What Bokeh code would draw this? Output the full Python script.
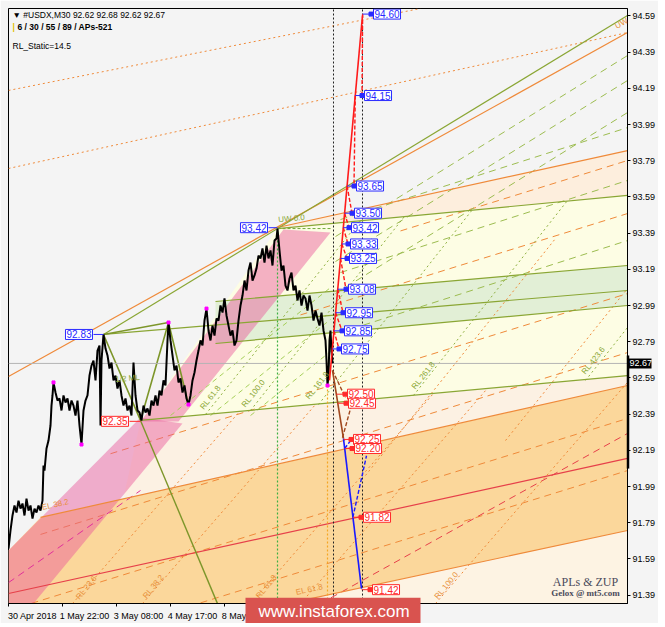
import numpy as np
from bokeh.plotting import figure
from bokeh.models import Label, FixedTicker, PrintfTickFormatter, Range1d
from bokeh.core.properties import value
from bokeh.embed import file_html
from bokeh.resources import INLINE

FONT = "Liberation Sans"

# ---------------- data ----------------
# price trace: (bar index, price)
price_path = [
    (0, 91.647), (2, 91.747), (4, 91.830), (6, 91.885), (8, 91.846), (10, 91.912), (12, 91.868),
    (14, 91.896), (16, 91.830), (18, 91.923), (20, 91.857), (22, 91.885), (24, 91.813), (26, 91.868),
    (28, 91.846), (30, 91.885), (32, 91.857), (34, 91.912), (35, 92.106), (36, 92.078), (38, 92.200),
    (40, 92.244), (42, 92.327), (43, 92.437), (44, 92.493), (45, 92.565), (47, 92.509), (49, 92.465),
    (51, 92.476), (53, 92.410), (55, 92.493), (57, 92.454), (59, 92.476), (61, 92.410), (63, 92.465),
    (65, 92.437), (67, 92.382), (69, 92.465), (71, 92.327), (73, 92.222), (75, 92.410), (77, 92.465),
    (79, 92.493), (81, 92.603), (83, 92.658), (85, 92.686), (87, 92.576), (89, 92.741), (91, 92.769),
    (92, 92.327), (93, 92.686), (95, 92.830), (97, 92.752), (99, 92.714), (101, 92.642), (103, 92.675),
    (105, 92.576), (107, 92.603), (109, 92.531), (111, 92.576), (113, 92.493), (115, 92.437),
    (117, 92.476), (119, 92.410), (121, 92.437), (123, 92.382), (125, 92.675), (127, 92.493),
    (129, 92.410), (131, 92.399), (133, 92.355), (135, 92.437), (137, 92.399), (139, 92.421),
    (141, 92.382), (143, 92.465), (145, 92.437), (147, 92.493), (149, 92.437), (151, 92.520),
    (153, 92.493), (155, 92.576), (157, 92.548), (159, 92.797), (160, 92.896), (162, 92.797),
    (164, 92.714), (166, 92.631), (168, 92.658), (170, 92.565), (172, 92.587), (174, 92.509),
    (176, 92.548), (178, 92.476), (180, 92.443), (182, 92.493), (184, 92.576), (186, 92.620),
    (188, 92.686), (190, 92.741), (192, 92.797), (194, 92.769), (196, 92.907), (198, 92.973),
    (200, 92.852), (202, 92.797), (204, 92.879), (206, 92.824), (208, 92.918), (210, 92.907),
    (212, 92.990), (214, 92.951), (216, 93.029), (218, 92.935), (220, 92.879), (222, 92.824),
    (224, 92.852), (226, 92.769), (228, 92.797), (230, 92.907), (232, 92.990), (234, 93.045),
    (236, 93.128), (238, 93.073), (240, 93.183), (242, 93.227), (244, 93.128), (246, 93.156),
    (248, 93.194), (250, 93.266), (252, 93.250), (254, 93.305), (256, 93.227), (258, 93.321),
    (260, 93.250), (262, 93.294), (264, 93.211), (266, 93.349), (268, 93.360), (269, 93.415),
    (271, 93.294), (273, 93.183), (275, 93.211), (277, 93.100), (279, 93.073), (281, 93.139),
    (283, 93.172), (285, 93.073), (287, 93.100), (289, 93.018), (291, 93.073), (293, 92.990),
    (295, 93.045), (297, 93.029), (299, 92.962), (301, 93.045), (303, 92.990), (305, 92.907),
    (307, 92.962), (309, 92.918), (311, 92.879), (313, 92.951), (315, 92.852), (317, 92.797),
    (318, 92.686), (319, 92.548), (320, 92.603), (321, 92.797), (322, 92.852), (323, 92.741),
    (324, 92.670),
]
swing_points = [(45, 92.565), (73, 92.222), (160, 92.896), (180, 92.443), (198, 92.973), (319, 92.548)]

current_price = 92.67
y_ticks = [91.39, 91.59, 91.79, 91.99, 92.19, 92.39, 92.59, 92.79, 92.99,
           93.19, 93.39, 93.59, 93.79, 93.99, 94.19, 94.39, 94.59]
x_tick_bars = [0, 54, 108, 162, 216, 270]
x_label_bars = [24, 76, 130, 184, 238, 292]
x_tick_labels = ["30 Apr 2018", "1 May 22:00", "3 May 08:00", "4 May 17:00", "8 May 03:00", "9 May 12:00"]

# shaded zones (bar, price) polygons
zone_yellow = [(132, 92.349), (619, 92.603), (619, 93.598), (269, 93.415)]
zone_peach_mid = [(132, 92.349), (619, 92.603), (619, 92.548), (115, 91.929)]
zone_peach_low = [(279, 91.343), (619, 91.747), (619, 91.343)]
zone_orange = [(32, 91.819), (619, 92.548), (619, 91.747), (279, 91.343), (0, 91.343), (0, 91.636)]
zone_peach_top = [(269, 93.421), (619, 93.846), (619, 93.598)]
zone_green = [(207, 93.012), (619, 93.211), (619, 92.990), (207, 92.780)]
zone_pink_low = [(0, 91.343), (0, 91.636), (132, 92.371), (174, 92.338), (25, 91.343)]
zone_pink_strip = [(132, 92.349), (170, 92.349), (322, 93.393), (275, 93.410)]

# solid lines (x0, y0, x1, y1)
orange_solid = [(32, 91.819, 619, 92.548), (279, 91.343, 619, 91.747),
                (0, 92.598, 619, 94.498), (269, 93.421, 619, 93.846)]
red_solid = [(0, 91.399, 619, 92.145)]
green_solid = [(95, 92.830, 619, 94.592), (269, 93.415, 619, 93.598), (207, 93.012, 619, 93.211),
               (95, 92.830, 619, 93.073), (207, 92.780, 619, 92.990), (132, 92.355, 619, 92.603)]
zigzag = [(95, 92.830), (132, 92.355), (160, 92.896), (180, 92.443)]
zigzag_extra = [(95, 92.830, 160, 92.896), (132, 92.355, 209, 91.343)]

# dashed / dotted lines
orange_dash = [(392, 93.402, 619, 93.791), (292, 92.938, 619, 93.498), (102, 92.171, 619, 93.056),
               (32, 91.725, 619, 92.730), (0, 91.305, 619, 92.366), (192, 91.347, 619, 92.078)]
red_dash = [(312, 91.343, 619, 92.283)]
magenta_dash = [(0, 91.459, 132, 91.968)]
green_dash = [(327, 93.371, 619, 94.371), (327, 93.233, 619, 94.233), (327, 93.056, 619, 94.056),
              (332, 93.465, 619, 93.973), (332, 93.172, 619, 93.681), (332, 92.841, 619, 93.349)]
lime_dash = [(162, 92.382, 322, 93.089), (202, 92.382, 322, 92.913), (242, 92.382, 322, 92.736)]
orange_dot = [(64, 91.343, 231, 92.404), (134, 91.343, 307, 92.443), (242, 91.343, 424, 92.498),
              (292, 91.343, 478, 92.526), (427, 91.343, 619, 92.565), (357, 92.051, 547, 93.360),
              (497, 92.244, 619, 93.084), (0, 94.178, 412, 94.631), (0, 93.747, 619, 94.498)]
green_dot = [(197, 92.388, 351, 93.454), (242, 92.410, 396, 93.482), (310, 92.443, 464, 93.520),
             (405, 92.493, 559, 93.570), (577, 92.576, 619, 92.868)]
uw_dash = [(269, 93.415, 322, 93.415)]
black_vlines = [325, 354]
green_vline = (269, 93.415)
orange_vline = (319, 92.548)

# projection of levels
proj_red_solid = [(321, 92.576), (354, 94.592)]
proj_brown_solid = [(324, 92.631), (335, 92.255)]
proj_blue_solid = [(335, 92.255), (353, 91.426)]
lvl_up = [94.60, 94.15, 93.65, 93.50, 93.42, 93.33, 93.25, 93.08, 92.95, 92.85, 92.75]
lvl_up_bar = [364, 355, 347, 345, 342, 341, 340, 339, 336, 335, 332]
lvl_dn = [92.50, 92.45, 92.25, 92.20, 91.82, 91.42]
lvl_dn_bar = [338, 339, 344, 345, 354, 363]
brown_dash = [(324, 92.631, 337, 92.48), (334, 92.26, 345, 92.48)]
blue_dash = [(336.2, 92.20, 343, 92.25), (344.4, 91.82, 358, 92.16)]

pivot_labels = [("92.83", 95, 92.83, 85, "blue"), ("93.42", 269, 93.42, 260, "blue"),
                ("92.35", 132, 92.35, 121, "red")]

zone_texts = [
    ("RL 61.8", 202, 92.482, 0.90, "green"), ("RL 100.0", 245, 92.504, 0.90, "green"),
    ("RL 161.8", 309, 92.548, 0.90, "green"), ("RL 261.8", 415, 92.603, 0.90, "green"),
    ("RL 423.6", 585, 92.686, 0.90, "green"), ("RL 23.6", 78, 91.432, 0.88, "orange"),
    ("RL 38.2", 145, 91.437, 0.88, "orange"), ("RL 61.8", 258, 91.437, 0.88, "orange"),
    ("RL 100.0", 438, 91.443, 0.88, "orange"), ("EL 61.8", 301, 91.421, 0.22, "orange"),
    ("EL 38.2", 47, 91.890, 0.22, "orange"), ("UW 0.0", 283, 93.470, 0.09, "green"),
    ("UW", 613, 94.548, 0.5, "orange"), ("1/2 ML", 119, 92.587, 0.08, "green"),
]

# overlays sitting on the axes (bar / price extents)
price_tag_box = (620, 643, 92.642, 92.697)
axis_bar = (619.5, 92.714, 92.089)
banner_box = (237, 412, 91.200, 91.376)
banner_text = (250, 91.299, "www.instaforex.com")

# ---------------- styles ----------------
C_ORANGE = "#ef8a3a"
C_RED = "#e6404a"
C_GREEN = "#8aa634"
C_OLIVE = "#7d962a"
C_BLUE_T = "#2a2aff"
C_RED_T = "#ff2a2a"
TXT = {"green": "#8aa634", "orange": "#e8903a"}

p = figure(frame_width=619, frame_height=595,
           x_range=Range1d(0, 619), y_range=Range1d(91.3436, 94.6309),
           y_axis_location="right", output_backend="svg", toolbar_location=None,
           min_border_left=8, min_border_top=8, min_border_right=30, min_border_bottom=16)
p.background_fill_color = "#f4f4f4"
p.border_fill_color = "#f4f4f4"
p.outline_line_color = "#000000"
p.grid.visible = False


def poly(pts, color, alpha=1.0):
    xs, ys = zip(*pts)
    p.patch(list(xs), list(ys), fill_color=color, fill_alpha=alpha, line_color=None)


def segs(lst, color, width=1.0, dash="solid", alpha=1.0):
    x0, y0, x1, y1 = zip(*lst)
    p.segment(x0=list(x0), y0=list(y0), x1=list(x1), y1=list(y1), line_color=color,
              line_width=width, line_dash=dash, line_alpha=alpha)


poly(zone_yellow, "#fdfde4")
poly(zone_peach_mid, "#fcf1e3")
poly(zone_peach_low, "#fdf3e3")
poly(zone_orange, "#fbd79b")
poly(zone_peach_top, "#fdeedd")
poly(zone_green, "#e2efd6")

# lines lying under the pink zone
segs(orange_dash, C_ORANGE, 1.0, "7 5")
segs(red_dash, C_RED, 1.0, "7 5")

poly(zone_pink_low, "#e8559a", 0.45)
poly(zone_pink_strip, "#e8559a", 0.45)

segs(magenta_dash, "#e0309a", 1.0, "7 5")
segs(green_dash, "#9cbc50", 1.0, "7 5")
segs(lime_dash, "#a6cf5a", 1.0, "5 4")
segs(orange_dot, C_ORANGE, 1.0, "2 3")
segs(green_dot, "#8fb040", 1.0, "2 3")
segs(uw_dash, "#6fa83a", 1.0, "3 2")

segs(orange_solid, C_ORANGE, 1.2)
segs(red_solid, C_RED, 1.2)
segs(green_solid, C_GREEN, 1.2)

zx, zy = zip(*zigzag)
p.line(list(zx), list(zy), line_color=C_OLIVE, line_width=1.6)
segs(zigzag_extra, C_OLIVE, 1.4)

# verticals and current price line
p.segment(x0=[green_vline[0]], y0=[green_vline[1]], x1=[green_vline[0]], y1=[91.3436],
          line_color="#3cb043", line_dash="2 2", line_width=1.2)
p.segment(x0=[orange_vline[0]], y0=[orange_vline[1]], x1=[orange_vline[0]], y1=[91.3436],
          line_color="#f5a623", line_dash="2 2", line_width=1.2)
p.segment(x0=black_vlines, y0=[91.3436] * 2, x1=black_vlines, y1=[94.6309] * 2,
          line_color="#222222", line_dash="2 2", line_width=1)
p.segment(x0=[0], y0=[current_price], x1=[619], y1=[current_price], line_color="#b4b4b4", line_width=1)

# price
bx, by = zip(*price_path)
p.line(list(bx), list(by), line_color="#000000", line_width=2.0)
sx_, sy_ = zip(*swing_points)
p.scatter(list(sx_), list(sy_), marker="square", size=3, color="#ff00ff")

# projections
rs = np.array(proj_red_solid)
p.line(rs[:, 0], rs[:, 1], line_color="#ff1a1a", line_width=1.6)
bs = np.array(proj_brown_solid)
p.line(bs[:, 0], bs[:, 1], line_color="#a0471d", line_width=1.6)
bl = np.array(proj_blue_solid)
p.line(bl[:, 0], bl[:, 1], line_color="#1a1aff", line_width=1.6)


def solid_x(line, lvl):
    (xa, ya), (xb, yb) = line
    return xa + (lvl - ya) / (yb - ya) * (xb - xa)


red_zig = []
for i in range(len(lvl_up) - 1):
    red_zig.append((solid_x(proj_red_solid, lvl_up[i]), lvl_up[i], lvl_up_bar[i + 1] - 1.5, lvl_up[i + 1]))
segs(red_zig, "#ff1a1a", 1.4, "4 2")
segs(brown_dash, "#a0471d", 1.4, "4 2")
segs(blue_dash, "#1a1aff", 1.4, "4 2")

up_conn = [(solid_x(proj_red_solid, l), l, b, l) for l, b in zip(lvl_up, lvl_up_bar)]
segs(up_conn, C_BLUE_T, 1.0)
dn_src = [solid_x(proj_brown_solid, l) if l > 92.3 else solid_x(proj_blue_solid, l) for l in lvl_dn]
dn_conn = [(s, l, b, l) for s, l, b in zip(dn_src, lvl_dn, lvl_dn_bar)]
segs(dn_conn, C_RED_T, 1.0)
p.scatter([b - 1.5 for b in lvl_up_bar], lvl_up, marker="square", size=4, color=C_BLUE_T)
p.scatter([b - 1.5 for b in lvl_dn_bar], lvl_dn, marker="square", size=4, color=C_RED_T)


def box_label(x, y, text, color, align="left"):
    p.add_layout(Label(x=x, y=y, text=text, text_font=FONT, text_font_size="10px",
                       text_color=color, text_align=align, text_baseline="middle",
                       background_fill_color="#ffffff", border_line_color=color,
                       border_line_width=1, padding=1))


for l, b in zip(lvl_up, lvl_up_bar):
    box_label(b + 1, l, f"{l:.2f}", C_BLUE_T)
for l, b in zip(lvl_dn, lvl_dn_bar):
    box_label(b + 1, l, f"{l:.2f}", C_RED_T)

for text, pb, pv, lb, col in pivot_labels:
    c = C_BLUE_T if col == "blue" else C_RED_T
    segs([(lb, pv, pb, pv)], c, 1.0)
    box_label(lb - 1, pv, text, c, align="right")

for text, x, y, ang, col in zone_texts:
    p.add_layout(Label(x=x, y=y, text=text, angle=ang, text_font=FONT, text_font_size="8px",
                       text_color=TXT[col], text_align="center", text_baseline="middle"))

# ---------------- axes ----------------
ya = p.yaxis[0]
ya.ticker = FixedTicker(ticks=y_ticks)
ya.formatter = PrintfTickFormatter(format="%.2f")
ya.major_tick_out = 3
ya.major_tick_in = 0
ya.minor_tick_line_color = None
ya.major_label_standoff = 2
ya.axis_line_color = "#000000"
ya.major_label_text_font = FONT
ya.major_label_text_font_size = "9px"
ya.major_label_text_color = "#000000"

xa = p.xaxis[0]
xa.ticker = FixedTicker(ticks=x_label_bars, minor_ticks=x_tick_bars)
xa.major_label_overrides = {b: t for b, t in zip(x_label_bars, x_tick_labels)}
xa.major_tick_line_color = None
xa.minor_tick_out = 3
xa.minor_tick_in = 0
xa.minor_tick_line_color = "#000000"
xa.major_label_standoff = 1
xa.axis_line_color = "#000000"
xa.major_label_text_font = FONT
xa.major_label_text_font_size = "9px"
xa.major_label_text_color = "#000000"

# ---------------- overlays drawn over the axes (unclipped level) ----------------
p.quad(left=[price_tag_box[0]], right=[price_tag_box[1]], bottom=[price_tag_box[2]],
       top=[price_tag_box[3]], fill_color="#000000", line_color=None, level="overlay")
p.text(x=[price_tag_box[0] + 1], y=[current_price], text=[f"{current_price:.2f}"],
       text_font=value(FONT), text_font_size="9px", text_color="#ffffff",
       text_baseline="middle", level="overlay")
p.segment(x0=[axis_bar[0]], y0=[axis_bar[1]], x1=[axis_bar[0]], y1=[axis_bar[2]],
          line_color="#000000", line_width=2.5, level="overlay")
p.quad(left=[banner_box[0]], right=[banner_box[1]], bottom=[banner_box[2]], top=[banner_box[3]],
       fill_color="#d9534f", line_color=None, level="overlay")
p.text(x=[banner_text[0]], y=[banner_text[1]], text=[banner_text[2]], text_font=value(FONT),
       text_font_size="17px", text_color="#ffffff", text_baseline="middle", level="overlay")


# ---------------- header / watermarks (screen units, frame relative) ----------------
def slabel(x, y, text, size="8.5px", color="#000000", style="normal", font=FONT, **kw):
    p.add_layout(Label(x=x, y=y, x_units="screen", y_units="screen", text=text,
                       text_font=font, text_font_size=size, text_color=color,
                       text_font_style=style, text_baseline="middle", **kw))


slabel(4, 589, "\u25bc #USDX,M30  92.62 92.68 92.62 92.67")
slabel(4, 577, "|", color="#e0c000", style="bold")
slabel(9, 577, "6 / 30 / 55 / 89 / APs-521", style="bold")
slabel(4, 558, "RL_Static=14.5")
slabel(577, 22, "APLs & ZUP", size="12px", color="#4b4b5b", font="Liberation Serif", text_align="center")
slabel(577, 11, "Gelox @ mt5.com", size="9px", color="#4b4b5b", font="Liberation Serif",
       style="bold", text_align="center")

open("out.html", "w").write(file_html(p, INLINE))
